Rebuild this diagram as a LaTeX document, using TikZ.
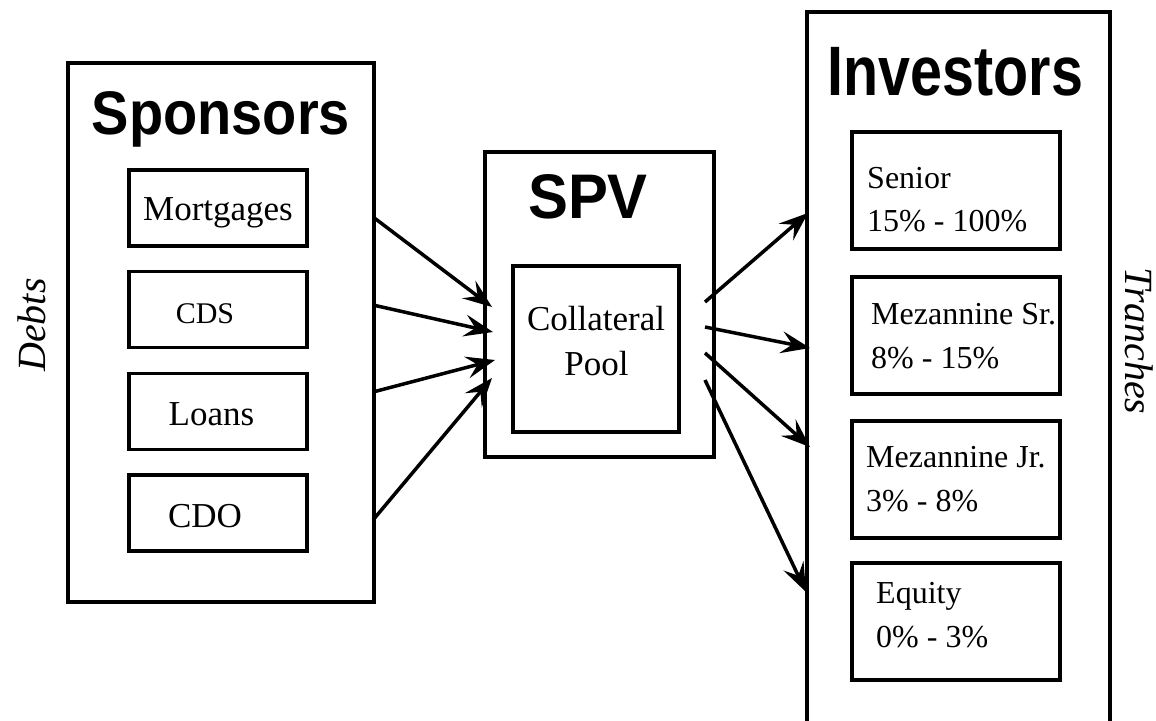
\documentclass[tikz,border=0pt]{standalone}
\usepackage{fontspec}
\usepackage{graphicx}
\setmainfont{Liberation Serif}
\setsansfont{Liberation Sans}
\usetikzlibrary{arrows.meta}

\begin{document}
\begin{tikzpicture}[x=1pt, y=-1pt,
  frame/.style={draw, line width=3.5pt, inner sep=0pt},
  item/.style={frame, minimum width=178pt, minimum height=76pt},
  tranche/.style={frame, minimum width=208pt, minimum height=117pt},
  label/.style={inner sep=0pt, font=\fontsize{35}{40}\selectfont},
  tline/.style={inner sep=0pt, anchor=base west, font=\fontsize{32}{40}\selectfont},
  side/.style={inner sep=0pt, anchor=base, font=\fontsize{40}{44}\selectfont\itshape},
  title/.style={inner sep=0pt, anchor=base},
  flow/.style={line width=3.5pt, -{Stealth[length=29pt, width=22pt, inset=11pt]}}]

\useasboundingbox (0,0) rectangle (1156,720);

% --- Sponsors ---------------------------------------------------------
\node[frame, minimum width=306pt, minimum height=539pt] (sponsors) at (221,332.5) {};
\node[title] (sponsorsT) at (221,134)
  {\scalebox{0.91}[1]{\fontsize{61.5}{70}\selectfont\sffamily\bfseries Sponsors}};
\node[item] (mortgages) at (218,208) {};
\node[item] (cds)       at (218,309.5) {};
\node[item] (loans)     at (218,411.5) {};
\node[item] (cdo)       at (218,513) {};
\node[label, anchor=base] (mortgagesT) at (218,220) {Mortgages};
\node[label, anchor=base, font=\fontsize{30}{34}\selectfont] (cdsT) at (205,323) {CDS};
\node[label, anchor=base] (loansT) at (211.5,425) {Loans};
\node[label, anchor=base] (cdoT)   at (205,527) {CDO};

% --- SPV ---------------------------------------------------------------
\node[frame, minimum width=229pt, minimum height=305pt] (spv) at (599.5,304.5) {};
\node[title] (spvT) at (588,218)
  {\scalebox{0.95}[1]{\fontsize{63}{70}\selectfont\sffamily\bfseries SPV}};
\node[frame, minimum width=166pt, minimum height=166pt] (pool) at (596,349) {};
\node[label, anchor=base] (poolA) at (596,330) {Collateral};
\node[label, anchor=base] (poolB) at (596.5,375) {Pool};

% --- Investors ---------------------------------------------------------
\node[frame, minimum width=303pt, minimum height=730pt] (investors) at (958.5,377) {};
\node[title] (investorsT) at (955.5,95)
  {\scalebox{0.82}[1]{\fontsize{70}{76}\selectfont\sffamily\bfseries Investors}};
\node[tranche] (senior) at (956,190.5) {};
\node[tranche] (mezsr)  at (956,335.5) {};
\node[tranche] (mezjr)  at (956,479.5) {};
\node[tranche] (equity) at (956,621.5) {};
\node[tline] (seniorA) at (867,188) {Senior};
\node[tline] (seniorB) at (867,231) {15\% - 100\%};
\node[tline] (mezsrA)  at (871,324) {Mezannine Sr.};
\node[tline] (mezsrB)  at (871,368) {8\% - 15\%};
\node[tline] (mezjrA)  at (866,467) {Mezannine Jr.};
\node[tline] (mezjrB)  at (866,511) {3\% - 8\%};
\node[tline] (equityA) at (876,603) {Equity};
\node[tline] (equityB) at (876,647) {0\% - 3\%};

% --- side captions -----------------------------------------------------
\node[side, rotate=90]  (debts)    at (45,325)   {Debts};
\node[side, rotate=-90] (tranches) at (1125,341) {Tranches};

% --- flows into the pool ----------------------------------------------
\coordinate (o1) at (373,217);  \coordinate (i1) at (492,307);
\coordinate (o2) at (373,305);  \coordinate (i2) at (493,332);
\coordinate (o3) at (373,392);  \coordinate (i3) at (495,360);
\coordinate (o4) at (373,520);  \coordinate (i4) at (492,378);
\draw[flow] (o1) -- (i1);
\draw[flow] (o2) -- (i2);
\draw[flow] (o3) -- (i3);
\draw[flow] (o4) -- (i4);

% --- flows out to the tranches ----------------------------------------
\coordinate (p1) at (705,302);  \coordinate (t1) at (808,213);
\coordinate (p2) at (705,327);  \coordinate (t2) at (810,348);
\coordinate (p3) at (705,353);  \coordinate (t3) at (810,447);
\coordinate (p4) at (705,380);  \coordinate (t4) at (806,592);
\draw[flow] (p1) -- (t1);
\draw[flow] (p2) -- (t2);
\draw[flow] (p3) -- (t3);
\draw[flow] (p4) -- (t4);
\end{tikzpicture}
\end{document}
